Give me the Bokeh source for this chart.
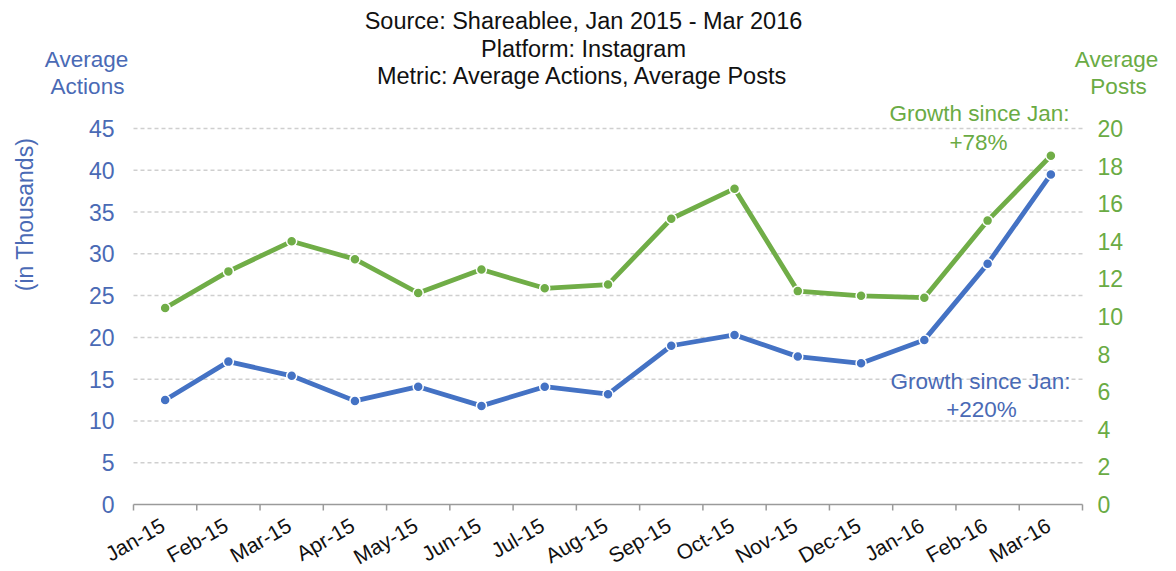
import math
from bokeh.plotting import figure
from bokeh.models import Range1d, Label
from bokeh.core.properties import value
from bokeh.embed import file_html
from bokeh.resources import INLINE

# ---------------- data ----------------
months = ["Jan-15", "Feb-15", "Mar-15", "Apr-15", "May-15", "Jun-15", "Jul-15", "Aug-15",
          "Sep-15", "Oct-15", "Nov-15", "Dec-15", "Jan-16", "Feb-16", "Mar-16"]
actions = [12.5, 17.1, 15.4, 12.4, 14.1, 11.8, 14.1, 13.2, 19.0, 20.3, 17.7, 16.9, 19.7, 28.8, 39.5]
posts = [10.45, 12.4, 14.0, 13.05, 11.25, 12.5, 11.5, 11.7, 15.2, 16.8, 11.35, 11.1, 11.0, 15.1, 18.55]
left_ticks = [0, 5, 10, 15, 20, 25, 30, 35, 40, 45]
right_ticks = [0, 2, 4, 6, 8, 10, 12, 14, 16, 18, 20]

titles = ["Source: Shareablee, Jan 2015 - Mar 2016", "Platform: Instagram",
          "Metric: Average Actions, Average Posts"]

# ---------------- style / layout ----------------
FONT = "Liberation Sans"
BLUE_LINE = "#4472C4"
GREEN_LINE = "#70AD47"
BLUE_TXT = "#4a6ab5"
GREEN_TXT = "#6aab44"
AXIS_GREY = "#9a9a9a"

W, H = 1176, 571
FL, FR, FT, FB = 133.0, 1082.0, 128.0, 504.0   # plotting area in canvas pixels

n = len(months)
xs = [i + 0.5 for i in range(n)]
ymax_l = left_ticks[-1]
ymax_r = right_ticks[-1]

sx = (FR - FL) / n
sy = (FB - FT) / ymax_l
x_range = Range1d(-FL / sx, n + (W - FR) / sx)
y_range = Range1d(-(H - FB) / sy, ymax_l + FT / sy)
k = ymax_r / ymax_l

def dx(px):
    return (px - FL) / sx

def dy(py):
    return (FB - py) / sy

p = figure(width=W, height=H, output_backend="svg", toolbar_location=None,
           x_range=x_range, y_range=y_range, min_border=0,
           x_axis_location=None, y_axis_location=None)
p.extra_y_ranges = {"posts": Range1d(y_range.start * k, y_range.end * k)}
p.outline_line_color = None
p.background_fill_color = "white"
p.border_fill_color = "white"
for g in p.grid:
    g.visible = False

# grid lines (dashed) at the left-axis ticks
gt = left_ticks[1:]
p.segment(x0=[0] * len(gt), y0=gt, x1=[n] * len(gt), y1=gt,
          line_color="#cfcfcf", line_width=1.5, line_dash="4 3")

# x axis line and tick marks at category boundaries
bounds = list(range(n + 1))
p.segment(x0=[0], y0=[0], x1=[n], y1=[0], line_color=AXIS_GREY, line_width=1.5)
p.segment(x0=bounds, y0=[0] * len(bounds), x1=bounds, y1=[-6 / sy] * len(bounds),
          line_color=AXIS_GREY, line_width=1.5)

# x tick labels
p.text(x=[x - 8 / sx for x in xs], y=[dy(513)] * n, text=months, angle=math.pi / 6,
       text_align="right", text_baseline="top", text_font=value(FONT),
       text_font_size=value("21px"), text_color="#111111")

# left y tick labels
p.text(x=[dx(114)] * len(left_ticks), y=left_ticks, text=[str(t) for t in left_ticks],
       text_align="right", text_baseline="middle", text_font=value(FONT),
       text_font_size=value("23px"), text_color=BLUE_TXT)

# right y tick labels
p.text(x=[dx(1097)] * len(right_ticks), y=right_ticks, text=[str(t) for t in right_ticks],
       text_align="left", text_baseline="middle", text_font=value(FONT),
       text_font_size=value("23px"), text_color=GREEN_TXT, y_range_name="posts")

# series
p.line(xs, actions, line_color=BLUE_LINE, line_width=4.8)
p.scatter(xs, actions, size=10, fill_color=BLUE_LINE, line_color="white", line_width=1.5)
p.line(xs, posts, line_color=GREEN_LINE, line_width=4.8, y_range_name="posts")
p.scatter(xs, posts, size=10, fill_color=GREEN_LINE, line_color="white", line_width=1.5,
          y_range_name="posts")

def add_text(txt, px, py, color, size="23px", angle=0.0):
    p.add_layout(Label(x=dx(px), y=dy(py), text=txt, text_font=FONT, text_font_size=size,
                       text_color=color, text_align="center", text_baseline="middle",
                       angle=angle))

for t, yy in zip(titles, [20, 48, 75]):
    add_text(t, 583, yy, "#111111", size="23.5px")
add_text("Average", 86, 59, BLUE_TXT, size="22.5px")
add_text("Actions", 87, 86, BLUE_TXT, size="22.5px")
add_text("Average", 1116, 59, GREEN_TXT, size="22.5px")
add_text("Posts", 1118, 86, GREEN_TXT, size="22.5px")
add_text("(in Thousands)", 24, 214, BLUE_TXT, size="23px", angle=math.pi / 2)
add_text("Growth since Jan:", 979, 113, GREEN_TXT, size="22.5px")
add_text("+78%", 978, 142, GREEN_TXT, size="22.5px")
add_text("Growth since Jan:", 980, 381, BLUE_TXT, size="22.5px")
add_text("+220%", 981, 409, BLUE_TXT, size="22.5px")

open("out.html", "w").write(file_html(p, INLINE))
